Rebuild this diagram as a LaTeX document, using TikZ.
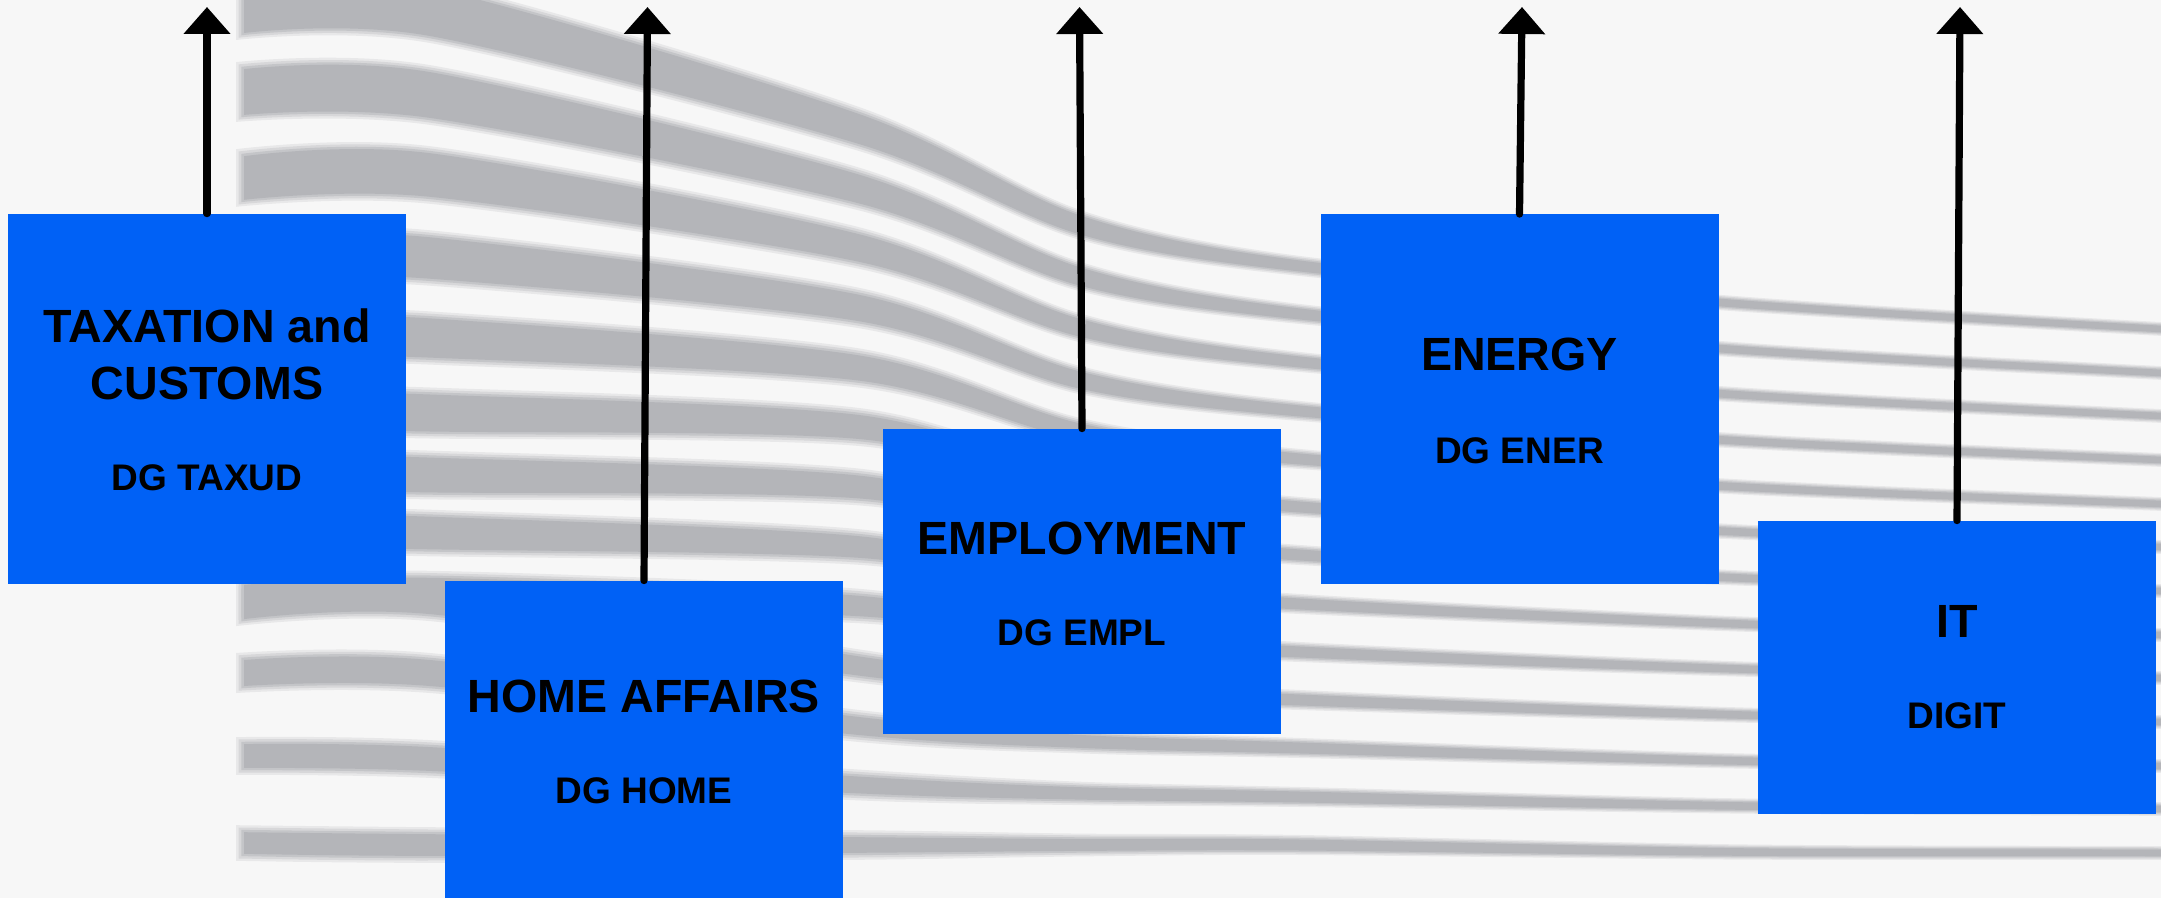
\documentclass[tikz,border=0pt]{standalone}
\usepackage{fontspec}
\setmainfont{Liberation Sans}
\usetikzlibrary{arrows.meta}
\definecolor{bg}{HTML}{F7F7F7}
\definecolor{bandc}{HTML}{B4B5B9}
\definecolor{dgblue}{HTML}{0061F6}

% #1 = fill style, #2 = blur factor (extra half-thickness multiplier)
\newcommand\drawbands[2]{%
  \foreach \L/\A/\B/\C/\D/\E [count=\i from 0] in {
     9/12/129/266/304/329,
     92/95/189/314/350/373,
     178/175/248/362/395/416,
     255/258/308/411/441/460,
     335/338/368/459/487/504,
     410/413/427/507/532/547,
     472/475/487/555/578/591,
     530/533/547/604/624/635,
     600/593/606/652/669/678,
     605/600/666/700/715/722,
     673/673/726/748/761/766,
     756/759/785/797/806/809,
     843/845/845/845/852/853}{%
    \pgfmathsetmacro\P{\B+0.7*(\C-\B)}%
    \pgfmathsetmacro\ha{24-1.1*\i+7*#2}%
    \pgfmathsetmacro\hb{15-0.6*\i+7*#2}%
    \pgfmathsetmacro\hp{9.5-0.3*\i+5.5*#2}%
    \pgfmathsetmacro\hc{5.5+4.5*#2}%
    \pgfmathsetmacro\hd{3.8+3.8*#2}%
    \pgfmathsetmacro\he{3.3+3.6*#2}%
    \pgfmathsetmacro\xl{244-8*#2}%
    \path[#1] plot[smooth] coordinates {(\xl,\L-\ha) (430,\A-\ha) (859,\B-\hb) (1080,\P-\hp) (1300,\C-\hc) (1740,\D-\hd) (2161,\E-\he) (2230,\E+2-\he)}
      -- plot[smooth] coordinates {(2230,\E+2+\he) (2161,\E+\he) (1740,\D+\hd) (1300,\C+\hc) (1080,\P+\hp) (859,\B+\hb) (430,\A+\ha) (\xl,\L+\ha)} -- cycle;
  }%
}

\begin{document}
\begin{tikzpicture}[x=0.5pt,y=-0.5pt,
  box/.style={rectangle, fill=dgblue, draw=none, inner sep=0pt, minimum width=199pt},
  title/.style={font=\fontsize{23.3}{28}\selectfont\bfseries, anchor=base, inner sep=0pt, text=black},
  code/.style={font=\fontsize{18.5}{22}\selectfont\bfseries, anchor=base, inner sep=0pt, text=black},
  up/.style={line width=3.6pt, line cap=round, draw=black, -{Triangle[length=13.5pt,width=22.7pt]}}]

\useasboundingbox (0,0) rectangle (2161,898);
\fill[bg] (0,0) rectangle (2161,898);

\begin{scope}
  \clip (0,0) rectangle (2161,898);
  \drawbands{fill=bandc!22!bg}{1}
  \drawbands{fill=bandc!48!bg}{0.67}
  \drawbands{fill=bandc!76!bg}{0.33}
  \drawbands{fill=bandc}{0}
\end{scope}

% boxes
\node[box, minimum height=185pt] (taxud) at (207,399) {};
\node[box, minimum height=158.75pt] (home) at (644,739.75) {};
\node[box, minimum height=152.5pt] (empl) at (1082,581.5) {};
\node[box, minimum height=184.5pt] (ener) at (1519.5,399) {};
\node[box, minimum height=146.5pt] (digit) at (1957,667.5) {};

% arrow tips
\coordinate (t1) at (207,7);
\coordinate (t2) at (647.5,7);
\coordinate (t3) at (1079.5,7);
\coordinate (t4) at (1522,7);
\coordinate (t5) at (1960,7);

\draw[up] (taxud.north) -- (t1);
\draw[up] (home.north) -- (t2);
\draw[up] (empl.north) -- (t3);
\draw[up] (ener.north) -- (t4);
\draw[up] (digit.north) -- (t5);

% texts
\node[title] (taxa) at (207,342.5) {TAXATION and};
\node[title] (taxb) at (207,400) {CUSTOMS};
\node[code] (taxc) at (207,490.5) {DG TAXUD};
\node[title] (homea) at (644,712) {HOME AFFAIRS};
\node[code] (homeb) at (644,803.5) {DG HOME};
\node[title] (empla) at (1082,554) {EMPLOYMENT};
\node[code] (emplb) at (1082,645) {DG EMPL};
\node[title] (enera) at (1519.5,371) {ENERGY};
\node[code] (enerb) at (1519.5,463) {DG ENER};
\node[title] (ita) at (1957,637) {IT};
\node[code] (itb) at (1957,728) {DIGIT};
\end{tikzpicture}
\end{document}
